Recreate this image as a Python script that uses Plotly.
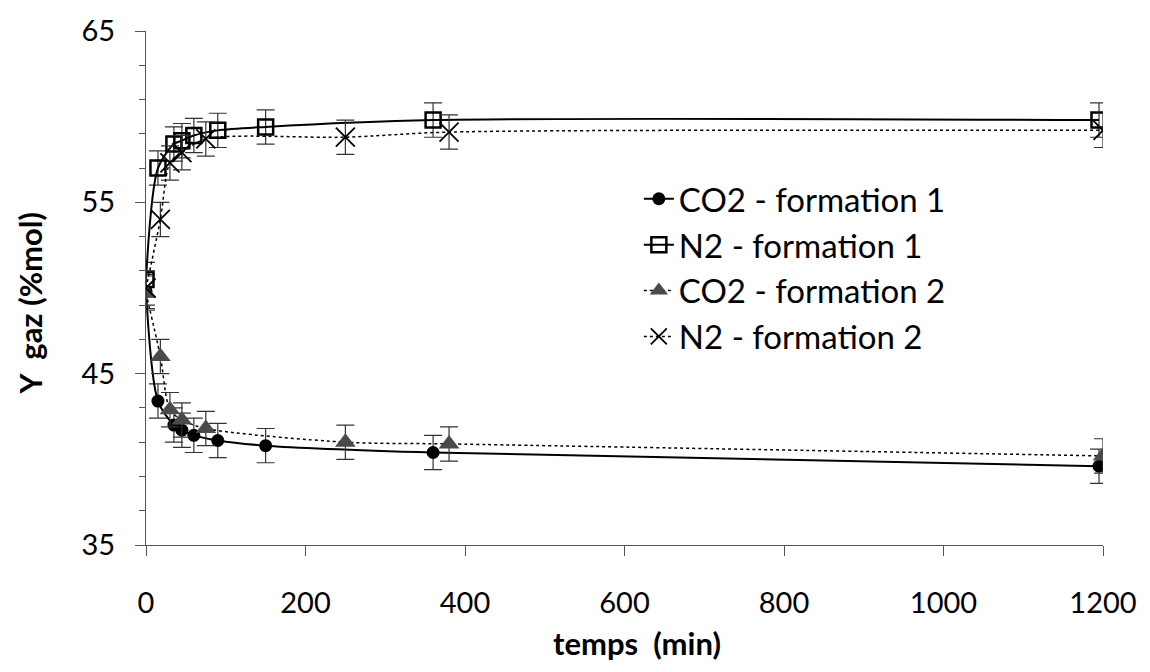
import plotly.graph_objects as go

# ---- data ----
t_f1 = [0, 15, 35, 45, 60, 90, 150, 360, 1195]
co2_f1 = [49.8, 43.4, 42.0, 41.7, 41.4, 41.1, 40.8, 40.4, 39.6]
co2_f1_err = [1.0, 1.0, 1.0, 1.0, 1.0, 1.0, 1.0, 1.0, 1.0]
n2_f1 = [50.5, 57.0, 58.4, 58.6, 58.9, 59.2, 59.4, 59.8, 59.8]
n2_f1_err = [1.0, 1.0, 1.0, 1.0, 1.0, 1.0, 1.0, 1.0, 1.0]

t_f2 = [0, 18, 30, 45, 75, 250, 380, 1200]
co2_f2 = [49.7, 46.0, 42.9, 42.3, 41.8, 41.0, 40.9, 40.2]
co2_f2_err = [1.0, 1.0, 1.0, 1.0, 1.0, 1.0, 1.0, 1.0]
n2_f2 = [50.0, 54.0, 57.3, 57.9, 58.7, 58.8, 59.1, 59.2]
n2_f2_err = [1.0, 1.0, 1.0, 1.0, 1.0, 1.0, 1.0, 1.0]

names = ["CO2 - formation 1", "N2 - formation 1", "CO2 - formation 2", "N2 - formation 2"]
x_ticks = [0, 200, 400, 600, 800, 1000, 1200]
y_ticks = [35, 45, 55, 65]

FONT = "Lato"
err_style = dict(type="data", thickness=1.2, width=9, color="#333333")

fig = go.Figure()
fig.add_trace(go.Scatter(
    x=t_f1, y=co2_f1, name=names[0], mode="lines+markers",
    line=dict(color="black", width=2, shape="spline", smoothing=0.8),
    marker=dict(symbol="circle", size=13, color="black"),
    error_y=dict(array=co2_f1_err, **err_style)))
fig.add_trace(go.Scatter(
    x=t_f1, y=n2_f1, name=names[1], mode="lines+markers",
    line=dict(color="black", width=2, shape="spline", smoothing=0.8),
    marker=dict(symbol="square-open", size=15, color="black", line=dict(width=2.5)),
    error_y=dict(array=n2_f1_err, **err_style)))
fig.add_trace(go.Scatter(
    x=t_f2, y=co2_f2, name=names[2], mode="lines+markers",
    line=dict(color="black", width=1.5, dash="dot", shape="spline", smoothing=0.8),
    marker=dict(symbol="triangle-up", size=18, color="#4a4a4a"),
    error_y=dict(array=co2_f2_err, **err_style)))
fig.add_trace(go.Scatter(
    x=t_f2, y=n2_f2, name=names[3], mode="lines+markers",
    line=dict(color="black", width=1.5, dash="dot", shape="spline", smoothing=0.8),
    marker=dict(symbol="x-thin-open", size=19, color="black", line=dict(width=1.8)),
    error_y=dict(array=n2_f2_err, **err_style)))

fig.update_layout(
    width=1150, height=672,
    margin=dict(l=146, r=47, t=23, b=127),
    paper_bgcolor="white", plot_bgcolor="white",
    font=dict(family=FONT, color="black", size=28),
    showlegend=True,
    legend=dict(x=0.515, y=0.728, xanchor="left", yanchor="top",
                font=dict(family=FONT, size=33, color="black"),
                bgcolor="rgba(0,0,0,0)", tracegroupgap=0),
    xaxis=dict(range=[0, 1200], tickvals=x_ticks, ticktext=[str(v) for v in x_ticks],
               showgrid=False, zeroline=False, showline=True, linecolor="#555555",
               linewidth=1, ticks="outside", ticklen=10, tickcolor="#555555",
               ticklabelstandoff=22, tickfont=dict(size=29)),
    yaxis=dict(range=[35, 65], tickvals=y_ticks, ticktext=[str(v) for v in y_ticks],
               showgrid=False, zeroline=False, showline=True, linecolor="#555555",
               linewidth=1, ticks="outside", ticklen=10, tickcolor="#555555",
               ticklabelstandoff=14, tickfont=dict(size=29),
               minor=dict(dtick=2, tick0=35, ticks="outside", ticklen=6,
                          tickcolor="#555555", showgrid=False)),
    annotations=[
        dict(text="<b>temps  (min)</b>", xref="paper", yref="paper", x=0.513, y=-0.19,
             showarrow=False, font=dict(family=FONT, size=31), xanchor="center", yanchor="middle"),
        dict(text="<b>Y  gaz (%mol)</b>", xref="paper", yref="paper", x=-0.121, y=0.47,
             showarrow=False, textangle=-90, font=dict(family=FONT, size=31),
             xanchor="center", yanchor="middle"),
    ],
)

fig.write_html("out.html")
